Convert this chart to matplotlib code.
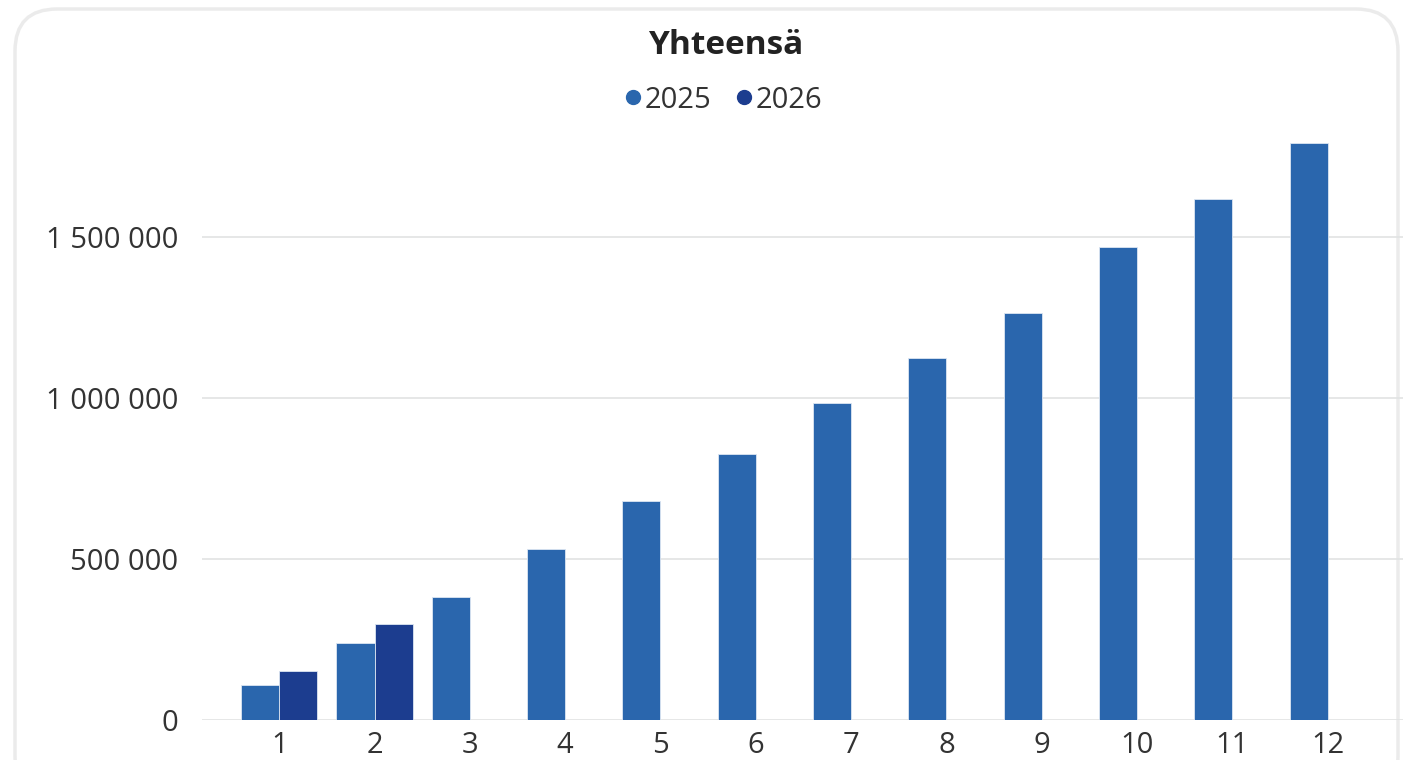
import numpy as np
import matplotlib.pyplot as plt
from matplotlib.patches import FancyBboxPatch
from matplotlib.lines import Line2D

plt.rcParams['font.family'] = ['Open Sans', 'DejaVu Sans']

# Data
months = [str(m) for m in range(1, 13)]
sales_2025 = [108000, 239000, 382000, 531000, 680000, 826000,
              984000, 1124000, 1264000, 1469000, 1618000, 1792000]
sales_2026 = [152000, 298000, np.nan, np.nan, np.nan, np.nan,
              np.nan, np.nan, np.nan, np.nan, np.nan, np.nan]
series = ['2025', '2026']
colors = ['#2a66ad', '#1c3d8f']
yticks = [0, 500000, 1000000, 1500000]

fig = plt.figure(figsize=(14.07, 7.6), dpi=100)

# Card background with rounded corners
card = FancyBboxPatch((15 / 1407, -0.05), (1398 - 15) / 1407, (760 - 9) / 760 + 0.05,
                      boxstyle="round,pad=0,rounding_size=0.03",
                      transform=fig.transFigure, facecolor='white',
                      edgecolor='#ebebeb', linewidth=2.5, zorder=-5,
                      mutation_aspect=1407 / 760)
fig.patches.append(card)

ax = fig.add_axes([202 / 1407, 40 / 760, (1403 - 202) / 1407, 596 / 760])
ax.set_facecolor('none')
ax.set_zorder(2)

x = np.arange(1, 13)
width = 0.4

# Grouped bars: 2025 left of the tick, 2026 right of it
ax.bar(x - width / 2, sales_2025, width=width, color=colors[0],
       edgecolor='#dce6f2', linewidth=0.6, zorder=3)
ax.bar(x + width / 2, sales_2026, width=width, color=colors[1],
       edgecolor='#dce6f2', linewidth=0.6, zorder=3)

ax.set_xlim(0.19, 12.79)
ax.set_ylim(0, 1850000)
ax.set_xticks(x)
ax.set_xticklabels(months)
ax.set_yticks(yticks)
ax.set_yticklabels([f"{v:,}".replace(',', ' ') for v in yticks])
ax.tick_params(axis='both', length=0, labelsize=21, colors='#333333')
ax.tick_params(axis='y', pad=17)
ax.tick_params(axis='x', pad=8)
ax.grid(axis='y', color='#e1e3e3', linewidth=1.2, zorder=0)
for s in ax.spines.values():
    s.set_visible(False)

# Title and legend
fig.text(0.516, 1 - 45 / 760, 'Yhteensä', ha='center', va='center',
         fontsize=24, fontweight='bold', color='#222222')
handles = [Line2D([], [], marker='o', linestyle='', markersize=10, color=c)
           for c in colors]
fig.legend(handles, series, loc='center', bbox_to_anchor=(0.511, 1 - 100 / 760),
           ncol=2, frameon=False, fontsize=21, handletextpad=-0.2,
           handlelength=1.2, columnspacing=0.5, labelcolor='#333333')

fig.savefig('out.png', dpi=100)
